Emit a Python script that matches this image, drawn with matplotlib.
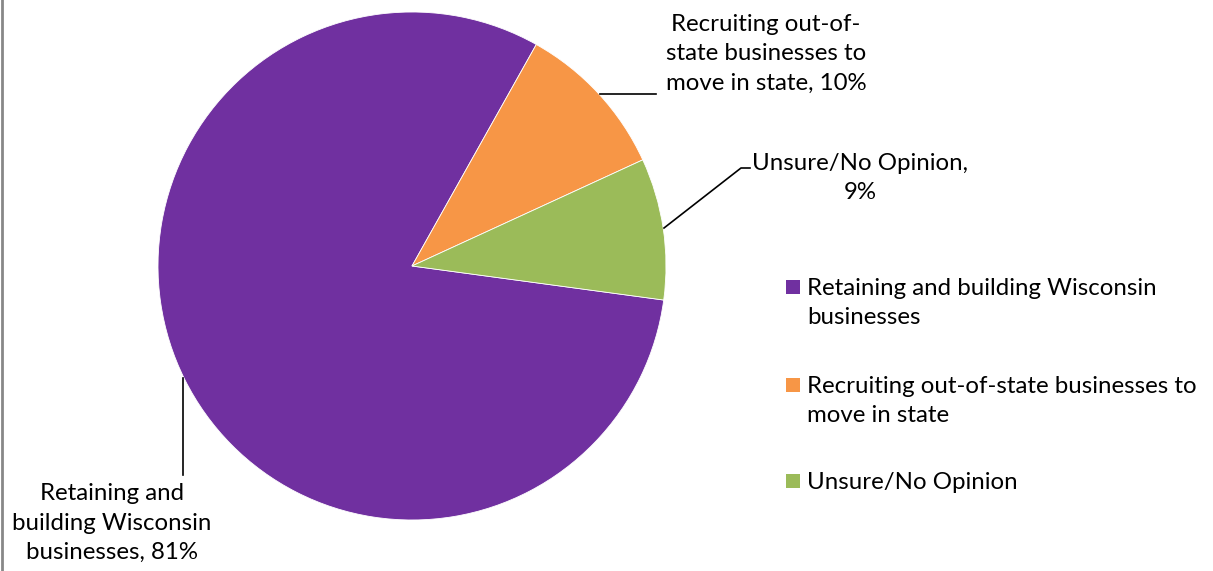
import matplotlib.pyplot as plt
from matplotlib.patches import Rectangle

# --- data ---
categories = [
    "Retaining and building Wisconsin businesses",
    "Recruiting out-of-state businesses to move in state",
    "Unsure/No Opinion",
]
values = [81, 10, 9]
colors = ["#7030A0", "#F79646", "#9BBB59"]

label_texts = [
    "Retaining and\nbuilding Wisconsin\nbusinesses, 81%",
    "Recruiting out-of-\nstate businesses to\nmove in state, 10%",
    "Unsure/No Opinion,\n9%",
]
legend_texts = [
    "Retaining and building Wisconsin\nbusinesses",
    "Recruiting out-of-state businesses to\nmove in state",
    "Unsure/No Opinion",
]

W, H = 1213, 571
plt.rcParams["font.family"] = ["Lato", "DejaVu Sans"]
FS = 17.3
LS = 1.5

fig = plt.figure(figsize=(W / 100, H / 100), dpi=100)
ax = fig.add_axes([0, 0, 1, 1])


def py(y):
    # convert image-style y (from top) to axis y
    return H - y


ax.pie(
    values,
    colors=colors,
    startangle=-7.7,
    counterclock=False,
    center=(412, py(266)),
    radius=254,
    frame=True,
    wedgeprops=dict(linewidth=0.6, edgecolor="white"),
)
ax.set_xlim(0, W)
ax.set_ylim(0, H)
ax.set_aspect("equal")
ax.axis("off")

# data labels with leader lines
ax.text(112, py(523), label_texts[0], ha="center", va="center", fontsize=FS,
        linespacing=LS)
ax.plot([183, 183], [py(378), py(475)], color="black", lw=1.2)

ax.text(766, py(54), label_texts[1], ha="center", va="center", fontsize=FS,
        linespacing=LS)
ax.plot([600, 656], [py(94), py(94)], color="black", lw=1.2)

ax.text(860, py(178), label_texts[2], ha="center", va="center", fontsize=FS,
        linespacing=LS)
ax.plot([664, 741, 750], [py(228), py(168), py(168)], color="black", lw=1.2)

# legend
legend_y = [287, 385, 481]
for txt, col, y in zip(legend_texts, colors, legend_y):
    ax.add_patch(Rectangle((786, py(y) - 7), 14, 14, facecolor=col, edgecolor="none"))
    ax.text(807, py(y - 9), txt, ha="left", va="top", fontsize=FS, linespacing=LS)

# left frame edge
ax.plot([1.5, 1.5], [0, H], color="#888888", lw=2, clip_on=False)

fig.savefig("out.png", dpi=100)
